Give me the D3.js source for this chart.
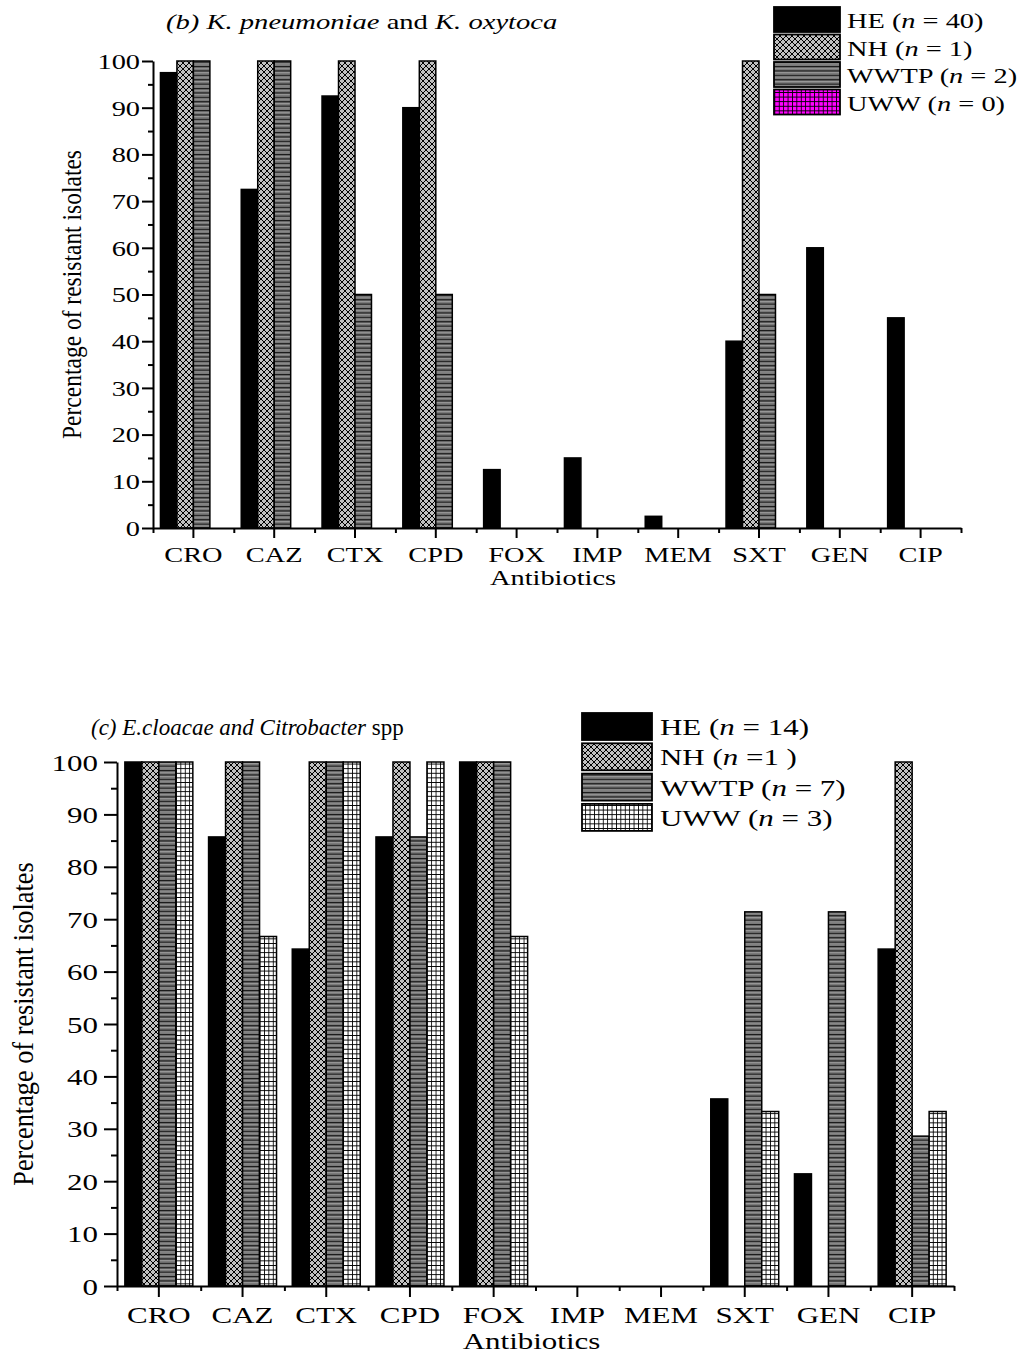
<!DOCTYPE html>
<html>
<head>
<meta charset="utf-8">
<script src="https://cdn.jsdelivr.net/npm/d3@7"></script>
<style>
  html, body { margin: 0; padding: 0; background: #fff; }
  svg { display: block; }
  text { font-family: "Liberation Serif", "Times New Roman", serif; fill: #000; }
</style>
</head>
<body>
<svg id="chart" width="1024" height="1354"></svg>
<script>
// Antibiotics tested and isolate sources
const categories = ["CRO", "CAZ", "CTX", "CPD", "FOX", "IMP", "MEM", "SXT", "GEN", "CIP"];
const sources = ["HE", "NH", "WWTP", "UWW"];
const yTicks = [0, 10, 20, 30, 40, 50, 60, 70, 80, 90, 100];

// (b) K. pneumoniae and K. oxytoca — % resistant isolates
const heB   = [97.5, 72.5, 92.5, 90, 12.5, 15, 2.5, 40, 60, 45];
const nhB   = [100, 100, 100, 100, 0, 0, 0, 100, 0, 0];
const wwtpB = [100, 100, 50, 50, 0, 0, 0, 50, 0, 0];
const uwwB  = [0, 0, 0, 0, 0, 0, 0, 0, 0, 0];
const countLabelsB = [" = 40)", " = 1)", " = 2)", " = 0)"];

// (c) E. cloacae and Citrobacter spp — % resistant isolates
const heC   = [100, 85.7, 64.3, 85.7, 100, 0, 0, 35.7, 21.4, 64.3];
const nhC   = [100, 100, 100, 100, 100, 0, 0, 0, 0, 100];
const wwtpC = [100, 100, 100, 85.7, 100, 0, 0, 71.4, 71.4, 28.6];
const uwwC  = [100, 66.7, 100, 100, 66.7, 0, 0, 33.3, 0, 33.3];
const countLabelsC = [" = 14)", " =1 )", " = 7)", " = 3)"];

const svg = d3.select("#chart");
const defs = svg.append("defs");

// Fill patterns
function crossHatch(id) {
  const p = defs.append("pattern").attr("id", id).attr("patternUnits", "userSpaceOnUse")
    .attr("width", 6).attr("height", 6);
  p.append("rect").attr("width", 6).attr("height", 6).attr("fill", "#c0c0c0");
  p.append("path").attr("d", "M0,0L6,6M6,0L0,6M-1,5L1,7M5,-1L7,1M-1,1L1,-1M5,7L7,5")
    .attr("stroke", "#000").attr("stroke-width", 1).attr("fill", "none");
}
function hStripes(id) {
  const p = defs.append("pattern").attr("id", id).attr("patternUnits", "userSpaceOnUse")
    .attr("width", 8).attr("height", 4.4);
  p.append("rect").attr("width", 8).attr("height", 4.4).attr("fill", "#7a7a7a");
  p.append("line").attr("x1", 0).attr("x2", 8).attr("y1", 0.6).attr("y2", 0.6)
    .attr("stroke", "#111").attr("stroke-width", 1.1);
  p.append("line").attr("x1", 0).attr("x2", 8).attr("y1", 2.2).attr("y2", 2.2)
    .attr("stroke", "#a6a6a6").attr("stroke-width", 0.7);
}
function grid(id, bg) {
  const p = defs.append("pattern").attr("id", id).attr("patternUnits", "userSpaceOnUse")
    .attr("width", 4.4).attr("height", 4.6);
  p.append("rect").attr("width", 4.4).attr("height", 4.6).attr("fill", bg);
  p.append("path").attr("d", "M0,0.4H4.4M0.4,0V4.6")
    .attr("stroke", "#000").attr("stroke-width", 0.9).attr("fill", "none");
}
crossHatch("fillNH");
hStripes("fillWWTP");
grid("fillUWWm", "#ff00ff");
grid("fillUWWw", "#ffffff");

// Text placed with a horizontal stretch factor
function stext(g, x, y, size, sx, anchor) {
  return g.append("text")
    .attr("transform", `translate(${x},${y}) scale(${sx},1)`)
    .attr("font-size", size)
    .attr("text-anchor", anchor || "start");
}

function drawPanel(cfg) {
  const g = svg.append("g");
  const x0 = d3.scaleBand().domain(categories).range([cfg.left, cfg.right]).padding(0);
  const inset = x0.bandwidth() * cfg.groupInset;
  const x1 = d3.scaleBand().domain(sources).range([inset, x0.bandwidth() - inset]).padding(0);
  const y = d3.scaleLinear().domain([0, 100]).range([cfg.bottom, cfg.top]);

  const series = sources.map((s, i) => ({ key: s, values: cfg.values[i], fill: cfg.fills[i] }));

  // Bars
  series.forEach(s => {
    g.append("g").selectAll("rect")
      .data(categories.map((c, j) => ({ c, v: s.values[j] })).filter(d => d.v > 0))
      .join("rect")
      .attr("x", d => x0(d.c) + x1(s.key))
      .attr("y", d => y(d.v))
      .attr("width", x1.bandwidth())
      .attr("height", d => y(0) - y(d.v))
      .attr("fill", s.fill)
      .attr("stroke", "#000")
      .attr("stroke-width", 1.5);
  });

  // Y axis: minor then major ticks
  const yMinor = g.append("g").attr("transform", `translate(${cfg.left},0)`)
    .call(d3.axisLeft(y).tickValues(d3.range(5, 100, 10)).tickSize(cfg.yMinor).tickSizeOuter(0).tickFormat(""));
  yMinor.select(".domain").remove();
  const yAx = g.append("g").attr("transform", `translate(${cfg.left},0)`)
    .call(d3.axisLeft(y).tickValues(yTicks).tickSize(cfg.yMajor).tickSizeOuter(0));
  yAx.selectAll("text")
    .attr("x", null).attr("dy", "0.34em")
    .attr("transform", `translate(${-cfg.yLabelGap},0) scale(${cfg.sx},1)`)
    .attr("font-size", cfg.font).attr("font-family", null).attr("text-anchor", "end");

  // X axis: minor ticks at group edges, major at category centres
  const edgeScale = d3.scaleLinear().domain([0, categories.length]).range([cfg.left, cfg.right]);
  const xMinor = g.append("g").attr("transform", `translate(0,${cfg.bottom})`)
    .call(d3.axisBottom(edgeScale).tickValues(d3.range(0, categories.length + 1)).tickSize(cfg.xMinor).tickSizeOuter(0).tickFormat(""));
  xMinor.select(".domain").remove();
  const xAx = g.append("g").attr("transform", `translate(0,${cfg.bottom})`)
    .call(d3.axisBottom(x0).tickSize(cfg.xMajor).tickSizeOuter(0));
  xAx.selectAll("text")
    .attr("y", null).attr("dy", null)
    .attr("transform", `translate(0,${cfg.xLabelOffset}) scale(${cfg.sx},1)`)
    .attr("font-size", cfg.font).attr("font-family", null);

  g.selectAll(".domain, .tick line").attr("stroke", "#000").attr("stroke-width", 2);

  // Axis titles
  stext(g, (cfg.left + cfg.right) / 2 - 4, cfg.xTitleY, cfg.font, cfg.sx, "middle").text("Antibiotics");
  g.append("text")
    .attr("transform", `translate(${cfg.yTitleX},${(cfg.top + cfg.bottom) / 2}) scale(${cfg.yTitleSx},1) rotate(-90)`)
    .attr("font-size", cfg.yTitleFont).attr("text-anchor", "middle")
    .text("Percentage of resistant isolates");

  // Legend
  const lg = g.append("g");
  series.forEach((s, i) => {
    const ry = cfg.legend.y + i * cfg.legend.step;
    lg.append("rect").attr("x", cfg.legend.x).attr("y", ry)
      .attr("width", cfg.legend.w).attr("height", cfg.legend.h)
      .attr("fill", cfg.legendFills[i]).attr("stroke", "#000").attr("stroke-width", 1.8);
    const t = stext(lg, cfg.legend.x + cfg.legend.w + cfg.legend.textGap, ry + cfg.legend.baseline, cfg.font, cfg.sx);
    t.append("tspan").text(s.key + " (");
    t.append("tspan").attr("font-style", "italic").text("n");
    t.append("tspan").text(cfg.counts[i]);
  });

  // Panel title
  const tt = stext(g, cfg.title.x, cfg.title.y, cfg.title.size, cfg.title.sx);
  cfg.title.parts.forEach(p => {
    tt.append("tspan").attr("font-style", p[1] ? "italic" : "normal").text(p[0]);
  });
}

drawPanel({
  left: 153, right: 961, top: 61, bottom: 528,
  groupInset: 0.092,
  values: [heB, nhB, wwtpB, uwwB],
  fills: ["#000", "url(#fillNH)", "url(#fillWWTP)", "url(#fillUWWm)"],
  legendFills: ["#000", "url(#fillNH)", "url(#fillWWTP)", "url(#fillUWWm)"],
  counts: countLabelsB,
  font: 21.5, sx: 1.32,
  yMajor: 11, yMinor: 5, xMajor: 10, xMinor: 5,
  yLabelGap: 13, xLabelOffset: 34,
  xTitleY: 585,
  yTitleX: 81, yTitleFont: 23.5, yTitleSx: 1.15,
  legend: { x: 774, y: 7, step: 27.5, w: 66, h: 25, textGap: 7, baseline: 21 },
  title: { x: 166, y: 29, size: 21.5, sx: 1.33,
    parts: [["(b) K. pneumoniae", true], [" and ", false], ["K. oxytoca", true]] }
});

drawPanel({
  left: 117, right: 954, top: 762, bottom: 1286,
  groupInset: 0.094,
  values: [heC, nhC, wwtpC, uwwC],
  fills: ["#000", "url(#fillNH)", "url(#fillWWTP)", "url(#fillUWWw)"],
  legendFills: ["#000", "url(#fillNH)", "url(#fillWWTP)", "url(#fillUWWw)"],
  counts: countLabelsC,
  font: 24, sx: 1.29,
  yMajor: 13, yMinor: 6, xMajor: 11, xMinor: 5,
  yLabelGap: 19, xLabelOffset: 37,
  xTitleY: 1349,
  yTitleX: 33, yTitleFont: 26.3, yTitleSx: 1.15,
  legend: { x: 582, y: 713, step: 30.3, w: 70, h: 27, textGap: 8, baseline: 22 },
  title: { x: 91, y: 735, size: 23, sx: 1.0,
    parts: [["(c) E.cloacae and Citrobacter", true], [" spp", false]] }
});
</script>
</body>
</html>
